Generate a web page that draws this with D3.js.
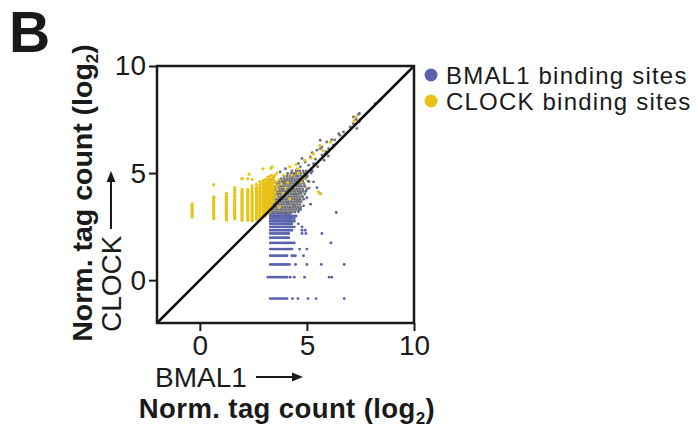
<!DOCTYPE html>
<html lang="en">
<head>
    <meta charset="UTF-8">
    <title>BMAL1 vs CLOCK</title>
    <script src="https://d3js.org/d3.v7.min.js"></script>
    <style>
        body { margin: 0; background: #fff; }
        text { font-family: "Liberation Sans", Arial, sans-serif; fill: #1a1a1a; }
        .tick line { stroke: #1a1a1a; stroke-width: 2px; }
        .tick text { font-size: 28px; }
    </style>
</head>
<body>
    <svg id="chart" width="698" height="428"></svg>

    <script>
        var xTicks = [0, 5, 10];
        var yTicks = [0, 5, 10];
        var legendLabels = ["BMAL1 binding sites", "CLOCK binding sites"];

        // BMAL1 sites, grouped in rows of equal CLOCK value
        var blueRows = [
            {y: -0.86, xs: [3.29, 3.38, 3.47, 3.56, 3.65, 3.74, 3.83, 3.92, 4.0, 4.07, 4.33, 4.58, 5.05, 5.43, 6.74]},
            {y: 0.14, xs: [3.18, 3.29, 3.38, 3.47, 3.56, 3.65, 3.74, 3.83, 3.92, 4.0, 4.07, 4.22, 4.41, 4.89, 6.04, 6.16]},
            {y: 0.73, xs: [3.29, 3.38, 3.47, 3.56, 3.65, 3.74, 3.83, 3.92, 4.0, 4.07, 4.18, 4.47, 5.0, 5.67, 6.74]},
            {y: 1.14, xs: [3.29, 3.38, 3.47, 3.56, 3.65, 3.74, 3.83, 3.92, 4.0, 4.07, 4.3, 4.38, 4.46, 4.84]},
            {y: 1.45, xs: [3.29, 3.38, 3.47, 3.56, 3.65, 3.74, 3.83, 3.92, 4.0, 4.07, 4.15, 4.22, 4.3, 4.66, 5.0]},
            {y: 1.74, xs: [3.29, 3.38, 3.47, 3.56, 3.65, 3.74, 3.83, 3.92, 4.0, 4.07, 4.15, 4.22, 4.3, 4.41, 6.12]},
            {y: 1.98, xs: [3.29, 3.38, 3.47, 3.56, 3.65, 3.74, 3.83, 3.92, 4.0, 4.07, 4.15]},
            {y: 2.18, xs: [3.29, 3.38, 3.47, 3.56, 3.65, 3.74, 3.83, 3.92, 4.0, 4.07, 4.15, 4.77, 4.95, 5.7]},
            {y: 2.33, xs: [3.29, 3.38, 3.47, 3.56, 3.65, 3.74, 3.83, 3.92, 4.0, 4.07, 4.15, 4.22, 4.3, 4.77, 4.92]},
            {y: 2.49, xs: [3.29, 3.38, 3.47, 3.56, 3.65, 3.74, 3.83, 3.92, 4.0, 4.07, 4.15, 4.22, 4.3, 4.41, 4.77]},
            {y: 2.63, xs: [3.29, 3.38, 3.47, 3.56, 3.65, 3.74, 3.83, 3.92, 4.0, 4.07, 4.15, 4.22, 4.3, 4.6]},
            {y: 2.75, xs: [3.29, 3.38, 3.47, 3.56, 3.65, 3.74, 3.83, 3.92, 4.0, 4.07, 4.15, 4.22, 4.3, 4.41]},
            {y: 2.88, xs: [3.29, 3.38, 3.47, 3.56, 3.65, 3.74, 3.83, 3.92, 4.0, 4.07, 4.15, 4.22, 4.3, 4.41]},
            {y: 3.0, xs: [3.29, 3.38, 3.47, 3.56, 3.65, 3.74, 3.83, 3.92, 4.0, 4.07, 4.15, 4.22, 4.3, 4.41, 4.5]},
            {y: 3.11, xs: [3.29, 3.38, 3.47, 3.56, 3.65, 3.74, 3.83, 3.92, 4.0, 4.07, 4.15, 4.22]}
        ];
        var blueExtra = [
            [6.37, 3.16], [5.17, 3.55], [4.58, 3.69], [4.84, 3.47], [5.47, 4.32], [5.62, 4.04],
            [4.7, 3.3], [5.0, 3.85], [4.6, 3.2], [7.45, 7.78], [7.3, 7.5], [5.9, 6.0], [4.4, 4.0],
            [4.95, 4.15], [4.3, 4.75], [3.9, 4.55], [5.25, 5.1], [4.1, 3.6]
        ];

        // CLOCK sites, grouped in columns of equal BMAL1 value
        var yellowCols = [
            {x: -0.36, ys: [2.95, 3.02, 3.09, 3.16, 3.23, 3.3, 3.37, 3.44, 3.51, 3.55]},
            {x: 0.65, ys: [2.88, 2.95, 3.02, 3.09, 3.16, 3.23, 3.3, 3.37, 3.44, 3.51, 3.58, 3.65, 3.72, 3.79, 3.86, 3.89, 4.46]},
            {x: 1.24, ys: [2.8, 2.87, 2.94, 3.01, 3.08, 3.15, 3.22, 3.29, 3.36, 3.43, 3.5, 3.57, 3.64, 3.71, 3.78, 3.85, 3.92, 4.04]},
            {x: 1.63, ys: [2.86, 2.93, 3.0, 3.07, 3.14, 3.21, 3.28, 3.35, 3.42, 3.49, 3.56, 3.63, 3.7, 3.77, 3.84, 3.91, 3.98, 4.1, 4.2, 4.32]},
            {x: 1.97, ys: [2.8, 2.87, 2.94, 3.01, 3.08, 3.15, 3.22, 3.29, 3.36, 3.43, 3.5, 3.57, 3.64, 3.71, 3.78, 3.85, 3.92, 3.99, 4.06, 4.14, 4.23, 4.74]},
            {x: 2.24, ys: [2.8, 2.87, 2.94, 3.01, 3.08, 3.15, 3.22, 3.29, 3.36, 3.43, 3.5, 3.57, 3.64, 3.71, 3.78, 3.85, 3.92, 3.99, 4.06, 4.14, 4.23, 4.73]},
            {x: 2.44, ys: [2.77, 2.84, 2.91, 2.98, 3.05, 3.12, 3.19, 3.26, 3.33, 3.4, 3.47, 3.54, 3.61, 3.68, 3.75, 3.82, 3.89, 3.96, 4.03, 4.1, 4.18, 4.28, 4.4, 4.7]},
            {x: 2.64, ys: [2.83, 2.9, 2.97, 3.04, 3.11, 3.18, 3.25, 3.32, 3.39, 3.46, 3.53, 3.6, 3.67, 3.74, 3.81, 3.88, 3.95, 4.02, 4.09, 4.16, 4.24, 4.33, 4.48]},
            {x: 2.8, ys: [2.88, 2.95, 3.02, 3.09, 3.16, 3.23, 3.3, 3.37, 3.44, 3.51, 3.58, 3.65, 3.72, 3.79, 3.86, 3.93, 4.0, 4.07, 4.14, 4.21, 4.28, 4.36, 4.46, 4.6]},
            {x: 2.95, ys: [2.95, 3.02, 3.09, 3.16, 3.23, 3.3, 3.37, 3.44, 3.51, 3.58, 3.65, 3.72, 3.79, 3.86, 3.93, 4.0, 4.07, 4.14, 4.21, 4.28, 4.35, 4.42, 4.52, 4.65, 5.2]},
            {x: 3.06, ys: [3.0, 3.07, 3.14, 3.21, 3.28, 3.35, 3.42, 3.49, 3.56, 3.63, 3.7, 3.77, 3.84, 3.91, 3.98, 4.05, 4.12, 4.19, 4.26, 4.33, 4.4, 4.47, 4.56, 4.7]},
            {x: 3.17, ys: [3.1, 3.17, 3.24, 3.31, 3.38, 3.45, 3.52, 3.59, 3.66, 3.73, 3.8, 3.87, 3.94, 4.01, 4.08, 4.15, 4.22, 4.29, 4.36, 4.43, 4.5, 4.58, 4.68, 4.8]},
            {x: 3.26, ys: [3.2, 3.27, 3.34, 3.41, 3.48, 3.55, 3.62, 3.69, 3.76, 3.83, 3.9, 3.97, 4.04, 4.11, 4.18, 4.25, 4.32, 4.39, 4.46, 4.53, 4.6, 4.7, 4.85]},
            {x: 3.35, ys: [3.5, 3.62, 3.74, 3.86, 3.98, 4.1, 4.22, 4.34, 4.46, 4.58, 4.72, 4.9]},
            {x: 3.44, ys: [3.7, 3.84, 3.98, 4.12, 4.26, 4.4, 4.54, 4.68, 4.82]}
        ];
        var yellowExtra = [
            [3.32, 5.21], [3.37, 5.29], [3.91, 4.9], [4.84, 4.74], [5.54, 4.12], [5.62, 4.04],
            [3.5, 4.9], [3.6, 5.0], [4.2, 5.3], [4.5, 5.4], [4.9, 5.6], [5.3, 5.9], [5.6, 6.3],
            [7.3, 7.62], [7.2, 7.45], [3.55, 4.6], [3.6, 4.4], [3.7, 4.7], [3.55, 3.9], [3.6, 3.6],
            [4.0, 4.3], [3.52, 4.1], [3.62, 4.25], [3.8, 4.5], [4.3, 4.9], [4.1, 4.55], [5.2, 5.7],
            [5.75, 6.05], [6.1, 6.45], [4.6, 5.0], [3.7, 3.4], [1.97, 4.74], [2.3, 4.95],
            [4.4, 4.4], [4.7, 4.6], [3.9, 4.05], [4.2, 3.8], [4.55, 5.2]
        ];

        // sites bound by both, dense core as rows plus loose points
        var greyRows = [
            {y: 3.18, xs: [3.36, 3.48, 3.6, 3.72, 3.84, 3.96, 4.08, 4.2, 4.32, 4.44]},
            {y: 3.3, xs: [3.32, 3.42, 3.54, 3.66, 3.78, 3.9, 4.02, 4.14, 4.26, 4.38, 4.5, 4.62]},
            {y: 3.42, xs: [3.3, 3.4, 3.5, 3.62, 3.74, 3.86, 3.98, 4.1, 4.22, 4.34, 4.46, 4.58, 4.7]},
            {y: 3.54, xs: [3.34, 3.46, 3.58, 3.7, 3.82, 3.94, 4.06, 4.18, 4.3, 4.42, 4.54, 4.66]},
            {y: 3.66, xs: [3.3, 3.42, 3.54, 3.66, 3.78, 3.9, 4.02, 4.14, 4.26, 4.38, 4.5, 4.62, 4.74]},
            {y: 3.78, xs: [3.36, 3.48, 3.6, 3.72, 3.84, 3.96, 4.08, 4.2, 4.32, 4.44, 4.56, 4.68, 4.85]},
            {y: 3.9, xs: [3.32, 3.44, 3.56, 3.68, 3.8, 3.92, 4.04, 4.16, 4.28, 4.4, 4.52, 4.64, 4.76]},
            {y: 4.02, xs: [3.4, 3.52, 3.64, 3.76, 3.88, 4.0, 4.12, 4.24, 4.36, 4.48, 4.6, 4.72, 4.9]},
            {y: 4.14, xs: [3.36, 3.5, 3.62, 3.74, 3.86, 3.98, 4.1, 4.22, 4.34, 4.46, 4.58, 4.7, 4.82]},
            {y: 4.26, xs: [3.46, 3.58, 3.7, 3.82, 3.94, 4.06, 4.18, 4.3, 4.42, 4.54, 4.66, 4.8, 5.0]},
            {y: 4.38, xs: [3.52, 3.66, 3.78, 3.9, 4.02, 4.14, 4.26, 4.38, 4.5, 4.62, 4.74, 4.9]},
            {y: 4.5, xs: [3.6, 3.74, 3.86, 3.98, 4.1, 4.22, 4.34, 4.46, 4.58, 4.7, 4.86]},
            {y: 4.62, xs: [3.7, 3.84, 3.96, 4.08, 4.2, 4.32, 4.44, 4.56, 4.68, 4.8, 5.05]},
            {y: 4.74, xs: [3.8, 3.94, 4.06, 4.18, 4.3, 4.42, 4.54, 4.66, 4.78, 4.92]},
            {y: 4.86, xs: [3.92, 4.06, 4.2, 4.34, 4.48, 4.6, 4.74, 4.88, 5.02]},
            {y: 4.98, xs: [4.1, 4.26, 4.42, 4.56, 4.7, 4.86, 5.0]},
            {y: 5.1, xs: [4.3, 4.5, 4.66, 4.82, 4.96, 5.12]}
        ];
        var greyExtra = [
            [4.69, 5.29], [4.92, 5.52], [4.77, 5.68], [5.08, 5.37], [5.31, 5.44], [5.47, 6.07], [5.62, 6.14], [5.7, 6.22],
            [6.01, 6.14], [6.16, 6.56], [5.93, 6.45], [5.62, 6.53], [6.24, 6.3], [5.85, 5.91], [5.16, 5.75], [4.53, 5.13],
            [4.38, 4.98], [5.0, 4.82], [5.31, 4.59], [7.41, 7.74], [7.17, 7.62], [7.44, 7.39], [7.17, 7.31], [7.33, 7.08],
            [8.18, 8.24], [8.42, 8.4], [7.02, 7.15], [6.55, 6.77], [6.48, 6.84], [6.71, 6.92], [5.2, 5.0], [5.5, 5.3],
            [5.8, 5.6], [6.0, 5.8], [3.3, 4.2], [3.35, 4.7], [3.45, 4.8], [4.9, 4.4], [5.1, 4.6],
            [4.5, 4.0], [4.7, 4.1], [4.8, 3.9], [5.1, 4.3], [3.9, 3.0], [4.1, 3.1], [4.4, 3.5],
            [5.4, 5.65], [5.25, 5.95], [4.6, 5.45], [3.75, 5.05], [4.0, 5.2], [5.7, 5.85], [6.3, 6.55]
        ];

        var colors = {blue: "#5a62ad", yellow: "#e7c316", grey: "#727279"};

        var svg = d3.select("#chart");

        var x = d3.scaleLinear().domain([-2, 10]).range([157, 414]);
        var y = d3.scaleLinear().domain([-2, 10]).range([323, 66]);

        // flatten the grouped data
        function fromRows(rows, extra) {
            var pts = [];
            rows.forEach(function(r) { r.xs.forEach(function(v) { pts.push([v, r.y]); }); });
            return pts.concat(extra);
        }
        var bluePts = fromRows(blueRows, blueExtra);
        var greyPts = fromRows(greyRows, greyExtra);
        var yellowPts = [];
        yellowCols.forEach(function(c) { c.ys.forEach(function(v) { yellowPts.push([c.x, v]); }); });
        yellowPts = yellowPts.concat(yellowExtra);

        function drawPoints(pts, color, r) {
            svg.append("g").selectAll("circle")
                .data(pts)
                .enter().append("circle")
                .attr("cx", d => x(d[0]))
                .attr("cy", d => y(d[1]))
                .attr("r", r)
                .attr("fill", color);
        }
        drawPoints(bluePts, colors.blue, 1.45);
        drawPoints(greyPts, colors.grey, 1.45);
        drawPoints(yellowPts, colors.yellow, 1.6);

        // diagonal
        svg.append("line")
            .attr("x1", x(-2)).attr("y1", y(-2))
            .attr("x2", x(10)).attr("y2", y(10))
            .attr("stroke", "#111").attr("stroke-width", 2.5);

        // frame
        svg.append("rect")
            .attr("x", x(-2)).attr("y", y(10))
            .attr("width", x(10) - x(-2)).attr("height", y(-2) - y(10))
            .attr("fill", "none").attr("stroke", "#1a1a1a").attr("stroke-width", 2.5);

        var xAxis = svg.append("g")
            .attr("transform", "translate(0," + y(-2) + ")")
            .call(d3.axisBottom(x).tickValues(xTicks).tickSize(8).tickPadding(4));
        var yAxis = svg.append("g")
            .attr("transform", "translate(" + x(-2) + ",0)")
            .call(d3.axisLeft(y).tickValues(yTicks).tickSize(8).tickPadding(3));
        [xAxis, yAxis].forEach(function(a) {
            a.select(".domain").remove();
            a.selectAll("text").attr("font-family", null).attr("font-size", null);
        });

        // panel letter
        svg.append("text")
            .attr("x", 9).attr("y", 52)
            .style("font-size", "57px").style("font-weight", "bold")
            .text("B");

        // x labels
        svg.append("text")
            .attr("x", 155).attr("y", 387)
            .style("font-size", "28px")
            .text("BMAL1");
        svg.append("line")
            .attr("x1", 256).attr("y1", 377).attr("x2", 294).attr("y2", 377)
            .attr("stroke", "#1a1a1a").attr("stroke-width", 2);
        svg.append("path")
            .attr("d", "M303,377 L292,372.5 L292,381.5 Z")
            .attr("fill", "#1a1a1a");

        var xt = svg.append("text")
            .attr("x", 287).attr("y", 418)
            .attr("text-anchor", "middle")
            .style("font-size", "27.5px").style("font-weight", "bold")
            .style("letter-spacing", "0.4px")
            .text("Norm. tag count (log");
        xt.append("tspan").attr("dy", 6).style("font-size", "17px").text("2");
        xt.append("tspan").attr("dy", -6).text(")");

        // y labels
        var yl = svg.append("g").attr("transform", "translate(92,193) rotate(-90)");
        var ytx = yl.append("text")
            .attr("text-anchor", "middle")
            .style("font-size", "28.5px").style("font-weight", "bold")
            .text("Norm. tag count (log");
        ytx.append("tspan").attr("dy", 6).style("font-size", "17px").text("2");
        ytx.append("tspan").attr("dy", -6).text(")");

        svg.append("g").attr("transform", "translate(121,332) rotate(-90)")
            .append("text")
            .style("font-size", "28px")
            .text("CLOCK");
        svg.append("line")
            .attr("x1", 111).attr("y1", 229).attr("x2", 111).attr("y2", 181)
            .attr("stroke", "#1a1a1a").attr("stroke-width", 2);
        svg.append("path")
            .attr("d", "M111,171 L106.5,182 L115.5,182 Z")
            .attr("fill", "#1a1a1a");

        // legend
        var legend = svg.append("g");
        [colors.blue, colors.yellow].forEach(function(c, i) {
            legend.append("circle")
                .attr("cx", 431).attr("cy", 75 + i * 26)
                .attr("r", 6.5).attr("fill", c);
            legend.append("text")
                .attr("x", 446).attr("y", 84 + i * 26)
                .style("font-size", "24px").style("letter-spacing", "1.2px")
                .text(legendLabels[i]);
        });
    </script>
</body>
</html>
